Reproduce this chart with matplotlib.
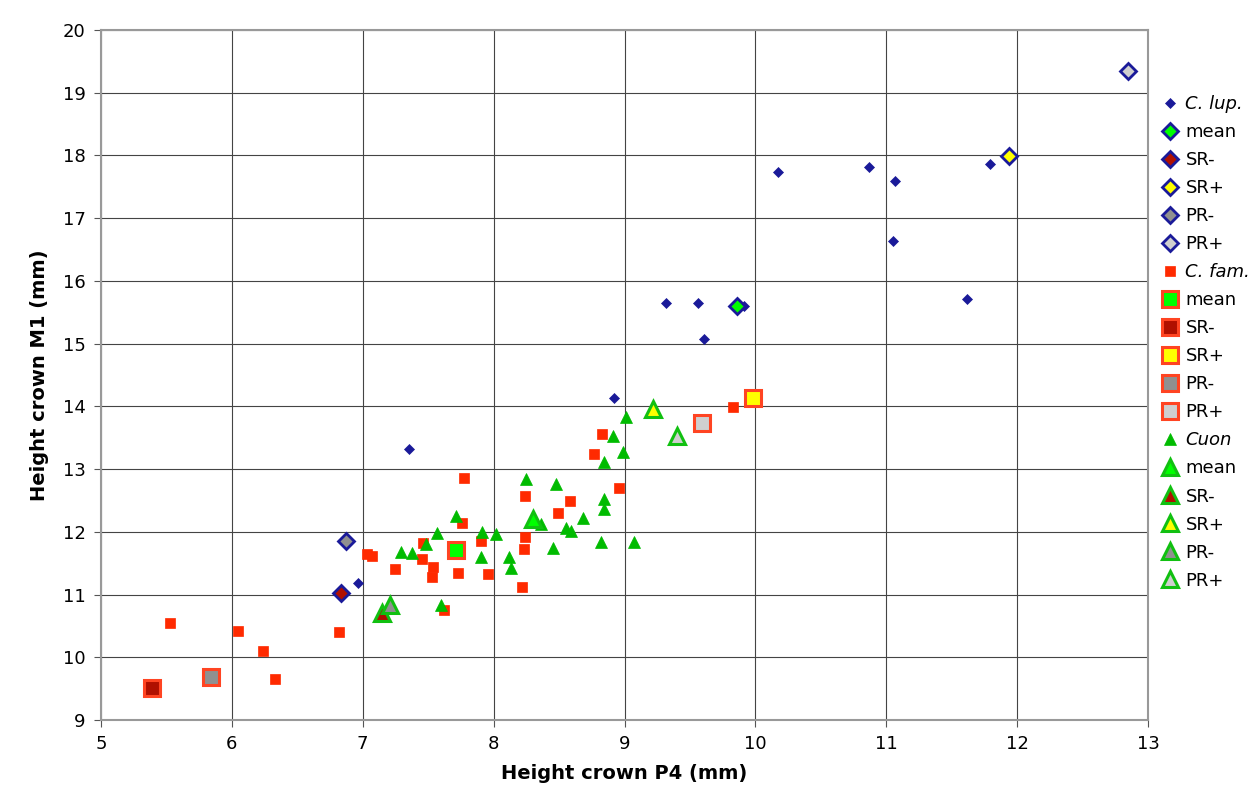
import matplotlib
matplotlib.use("Agg")
import matplotlib.pyplot as plt

# ---- data ----
lup_x = [6.96, 7.35, 8.92, 9.32, 9.56, 9.61, 9.91, 10.17, 10.87, 11.07, 11.05, 11.62, 11.79]
lup_y = [11.18, 13.32, 14.13, 15.65, 15.65, 15.07, 15.60, 17.74, 17.82, 17.59, 16.64, 15.71, 17.86]
lup_stats_x = [9.86, 6.83, 11.94, 6.87, 12.85]      # mean, SR-, SR+, PR-, PR+
lup_stats_y = [15.60, 11.03, 17.99, 11.85, 19.35]

fam_x = [5.53, 6.05, 6.24, 6.33, 6.82, 7.03, 7.07, 7.25, 7.46, 7.45, 7.54, 7.53, 7.73,
         7.77, 7.76, 7.62, 7.90, 7.96, 8.22, 8.23, 8.24, 8.24, 8.49, 8.58, 8.83, 8.77,
         8.96, 9.83]
fam_y = [10.55, 10.42, 10.10, 9.66, 10.40, 11.65, 11.62, 11.41, 11.82, 11.57, 11.44, 11.28,
         11.34, 12.86, 12.14, 10.75, 11.86, 11.33, 11.12, 11.73, 11.92, 12.57, 12.30, 12.49,
         13.56, 13.24, 12.70, 13.99]
fam_stats_x = [7.71, 5.39, 9.98, 5.84, 9.59]
fam_stats_y = [11.71, 9.51, 14.13, 9.69, 13.73]

cuon_x = [8.25, 7.71, 7.91, 8.02, 7.57, 7.48, 7.29, 7.38, 7.90, 8.12, 8.13, 7.60, 8.36,
          8.45, 9.01, 8.91, 8.99, 8.84, 8.48, 8.84, 8.84, 8.68, 8.55, 8.59, 8.82, 9.07]
cuon_y = [12.84, 12.25, 12.00, 11.97, 11.98, 11.80, 11.68, 11.67, 11.60, 11.60, 11.42, 10.83,
          12.13, 11.74, 13.83, 13.53, 13.27, 13.11, 12.77, 12.52, 12.36, 12.22, 12.06, 12.01,
          11.84, 11.84]
cuon_stats_x = [8.30, 7.15, 9.22, 7.21, 9.40]
cuon_stats_y = [12.20, 10.70, 13.96, 10.84, 13.53]

stat_labels = ["mean", "SR-", "SR+", "PR-", "PR+"]
stat_fills = ["#00ff00", "#b01000", "#ffff00", "#909090", "#cfcfcf"]

x_ticks = [5, 6, 7, 8, 9, 10, 11, 12, 13]
y_ticks = [9, 10, 11, 12, 13, 14, 15, 16, 17, 18, 19, 20]

# ---- colours ----
lup_c = "#1a1a99"
fam_c = "#ff2a00"
fam_edge = "#ff4422"
cuon_c = "#00bb00"
cuon_edge = "#11c011"

plt.rcParams["font.family"] = ["DejaVu Sans"]
fig = plt.figure(figsize=(12.57, 8.09), dpi=100)
ax = fig.add_axes([101/1257, 1-720/809, (1148-101)/1257, (720-30)/809])

handles = []

def plot_group(xs, ys, sx, sy, marker, small_ms, big_ms, col, edge, name, big_mew):
    h = ax.plot(xs, ys, linestyle="none", marker=marker, ms=small_ms, color=col,
                mec=col, mew=0.5, label=name, zorder=3)[0]
    handles.append(h)
    for i in range(len(stat_labels)):
        h = ax.plot([sx[i]], [sy[i]], linestyle="none", marker=marker, ms=big_ms,
                    mfc=stat_fills[i], mec=edge, mew=big_mew, label=stat_labels[i], zorder=4)[0]
        handles.append(h)

plot_group(lup_x, lup_y, lup_stats_x, lup_stats_y, "D", 5.5, 8.5, lup_c, lup_c, "C. lup.", 2.0)
plot_group(fam_x, fam_y, fam_stats_x, fam_stats_y, "s", 7.5, 11, fam_c, fam_edge, "C. fam.", 2.2)
plot_group(cuon_x, cuon_y, cuon_stats_x, cuon_stats_y, "^", 8, 12, cuon_c, cuon_edge, "Cuon", 2.2)

ax.set_xlim(5, 13)
ax.set_ylim(9, 20)
ax.set_xticks(x_ticks)
ax.set_yticks(y_ticks)
ax.tick_params(labelsize=13, direction="out", length=5, color="#555555", pad=6)
ax.grid(True, color="#444444", linewidth=0.8)
ax.set_axisbelow(True)
for s in ax.spines.values():
    s.set_color("#999999")
    s.set_linewidth(1.5)

ax.set_xlabel("Height crown P4 (mm)", fontsize=14, fontweight="bold", labelpad=8)
ax.set_ylabel("Height crown M1 (mm)", fontsize=14, fontweight="bold", labelpad=10)

leg = fig.legend(handles=handles, loc="upper left", bbox_to_anchor=(1152/1257, 1-88/809),
                 frameon=False, fontsize=13, labelspacing=0.555, handletextpad=0.25,
                 handlelength=1.2, borderaxespad=0)
for t in leg.get_texts():
    if t.get_text() in ("C. lup.", "C. fam.", "Cuon"):
        t.set_style("italic")

fig.savefig("out.png", dpi=100)
